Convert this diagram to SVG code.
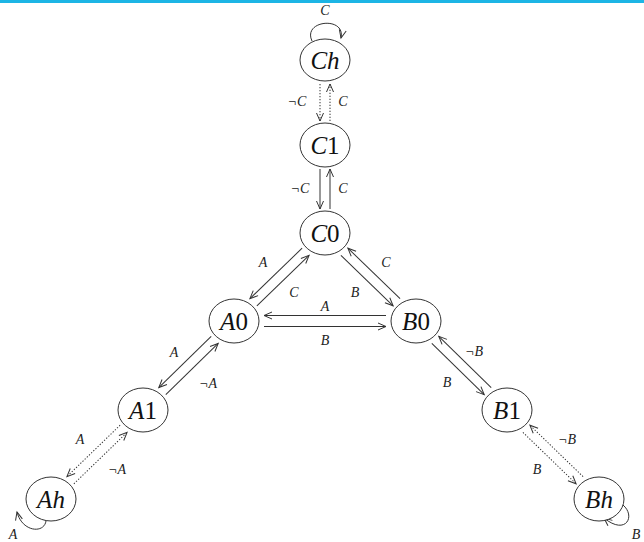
<svg xmlns="http://www.w3.org/2000/svg" width="644" height="542" viewBox="0 0 644 542">
<style>
.node ellipse{fill:#fff;stroke:#333;stroke-width:1}
.nl{font-family:"Liberation Serif",serif;font-size:25px;text-anchor:middle;fill:#111}
.it{font-style:italic}
.el{font-family:"Liberation Serif",serif;font-size:14px;font-style:italic;text-anchor:middle;fill:#222}
.e{stroke:#333;stroke-width:1;fill:none;marker-end:url(#arr)}
.d{stroke-dasharray:1.3 1.7}
</style>
<defs>
<marker id="arr" viewBox="-10 -5 12 10" markerWidth="12" markerHeight="10" refX="0" refY="0" orient="auto" markerUnits="userSpaceOnUse">
<path d="M -8,-3.5 L 0,0 L -8,3.5" fill="none" stroke="#333" stroke-width="1"/>
</marker>
</defs>
<rect x="0" y="0" width="644" height="3" fill="#1CB5E5"/>
<g id="connectors">
<g transform="translate(325,60) rotate(90)">
<line class="e d" x1="24" y1="5" x2="61" y2="5"/>
<line class="e d" x1="61" y1="-5" x2="24" y2="-5"/>
</g>
<g transform="translate(325,145) rotate(90)">
<line class="e" x1="24" y1="5" x2="64" y2="5"/>
<line class="e" x1="64" y1="-5" x2="24" y2="-5"/>
</g>
<g transform="translate(325,233) rotate(135.96)">
<line class="e" x1="27" y1="5" x2="99.6" y2="5"/>
<line class="e" x1="99.6" y1="-5" x2="27" y2="-5"/>
</g>
<g transform="translate(325,233) rotate(44.04)">
<line class="e" x1="27" y1="5" x2="99.6" y2="5"/>
<line class="e" x1="99.6" y1="-5" x2="27" y2="-5"/>
</g>
<g transform="translate(234,321)">
<line class="e" x1="30" y1="5.5" x2="152" y2="5.5"/>
<line class="e" x1="152" y1="-5.5" x2="30" y2="-5.5"/>
</g>
<g transform="translate(234,321) rotate(135.64)">
<line class="e" x1="27" y1="5" x2="100.3" y2="5"/>
<line class="e" x1="100.3" y1="-5" x2="27" y2="-5"/>
</g>
<g transform="translate(416,321) rotate(44.36)">
<line class="e" x1="27" y1="5" x2="100.3" y2="5"/>
<line class="e" x1="100.3" y1="-5" x2="27" y2="-5"/>
</g>
<g transform="translate(143,410) rotate(135.95)">
<line class="e d" x1="27" y1="5" x2="101" y2="5"/>
<line class="e d" x1="101" y1="-5" x2="27" y2="-5"/>
</g>
<g transform="translate(507,410) rotate(44.05)">
<line class="e d" x1="27" y1="5" x2="101" y2="5"/>
<line class="e d" x1="101" y1="-5" x2="27" y2="-5"/>
</g>
<path class="e" d="M 312,41 C 302,20 346,16 341,38"/>
<path class="e" d="M 46,521 C 44,534 22,532 17,512"/>
<path class="e" d="M 623,505 C 636,516 626,536 604,518"/>
<text class="el" x="325" y="15">C</text>
<text class="el" x="297" y="106">¬C</text>
<text class="el" x="343" y="106">C</text>
<text class="el" x="300" y="193">¬C</text>
<text class="el" x="343" y="193">C</text>
<text class="el" x="263" y="267">A</text>
<text class="el" x="294" y="297">C</text>
<text class="el" x="355" y="297">B</text>
<text class="el" x="386" y="267">C</text>
<text class="el" x="325" y="311">A</text>
<text class="el" x="325" y="345">B</text>
<text class="el" x="174" y="357">A</text>
<text class="el" x="208" y="388">¬A</text>
<text class="el" x="474" y="356">¬B</text>
<text class="el" x="447" y="387">B</text>
<text class="el" x="80" y="444">A</text>
<text class="el" x="117" y="474">¬A</text>
<text class="el" x="567" y="444">¬B</text>
<text class="el" x="537" y="474">B</text>
<text class="el" x="13" y="539">A</text>
<text class="el" x="636" y="539">B</text>
</g>
<g id="Ch" class="node"><ellipse cx="325" cy="60" rx="25" ry="21"/><text class="nl it" x="325" y="69">Ch</text></g>
<g id="C1" class="node"><ellipse cx="325" cy="145" rx="25" ry="22"/><text class="nl" x="325" y="154"><tspan class="it">C</tspan>1</text></g>
<g id="C0" class="node"><ellipse cx="325" cy="233" rx="25" ry="22"/><text class="nl" x="325" y="242"><tspan class="it">C</tspan>0</text></g>
<g id="A0" class="node"><ellipse cx="234" cy="321" rx="25" ry="22"/><text class="nl" x="234" y="330"><tspan class="it">A</tspan>0</text></g>
<g id="B0" class="node"><ellipse cx="416" cy="321" rx="25" ry="22"/><text class="nl" x="416" y="330"><tspan class="it">B</tspan>0</text></g>
<g id="A1" class="node"><ellipse cx="143" cy="410" rx="25" ry="22"/><text class="nl" x="143" y="419"><tspan class="it">A</tspan>1</text></g>
<g id="B1" class="node"><ellipse cx="507" cy="410" rx="25" ry="22"/><text class="nl" x="507" y="419"><tspan class="it">B</tspan>1</text></g>
<g id="Ah" class="node"><ellipse cx="51" cy="499" rx="25" ry="22"/><text class="nl it" x="51" y="508">Ah</text></g>
<g id="Bh" class="node"><ellipse cx="599" cy="499" rx="25" ry="22"/><text class="nl it" x="599" y="508">Bh</text></g>
</svg>
